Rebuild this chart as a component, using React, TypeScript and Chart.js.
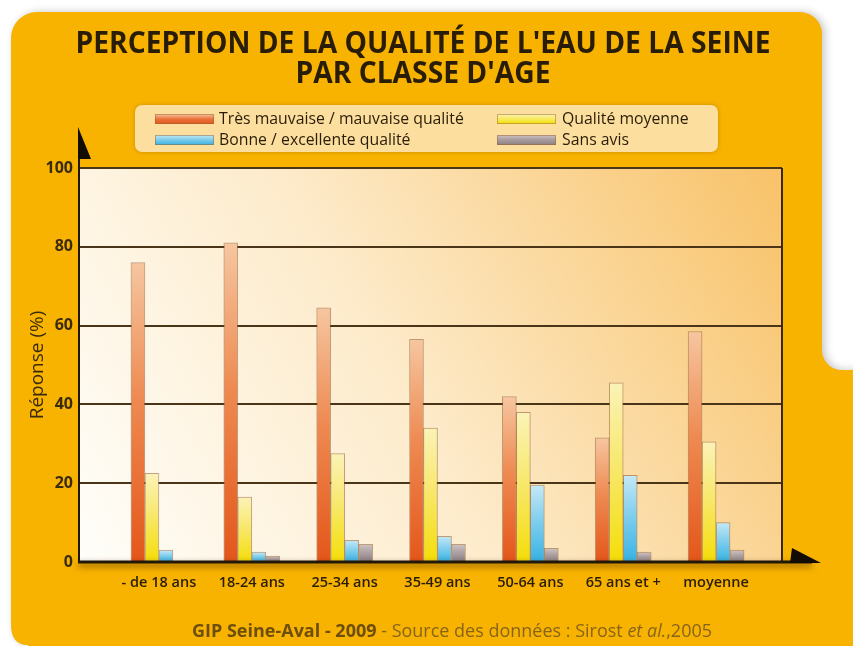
import React, { useEffect, useRef } from 'react';
import { Chart, registerables } from 'chart.js';

Chart.register(...registerables);

const categories = ['- de 18 ans', '18-24 ans', '25-34 ans', '35-49 ans', '50-64 ans', '65 ans et +', 'moyenne'];
const seriesLabels = ['Très mauvaise / mauvaise qualité', 'Qualité moyenne', 'Bonne / excellente qualité', 'Sans avis'];
const tresMauvaise = [76, 81, 64.5, 56.5, 42, 31.5, 58.5];
const qualiteMoyenne = [22.5, 16.5, 27.5, 34, 38, 45.5, 30.5];
const bonneExcellente = [3, 2.5, 5.5, 6.5, 19.5, 22, 10];
const sansAvis = [0, 1.5, 4.5, 4.5, 3.5, 2.5, 3];
const yTicks = [0, 20, 40, 60, 80, 100];
const titleLines = ["PERCEPTION DE LA QUALITÉ DE L'EAU DE LA SEINE", "PAR CLASSE D'AGE"];
const yTitle = 'Réponse (%)';
const footerBold = 'GIP Seine-Aval - 2009';
const footerText = ' - Source des données : Sirost ';
const footerItalic = 'et al.';
const footerEnd = ',2005';

const FONT = '"Open Sans", "DejaVu Sans", sans-serif';

const seriesColors = [
  { light: '#F6C6A0', mid: '#EE8B52', dark: '#E4561A', swatch: '#E9723A' },
  { light: '#FBF3B8', mid: '#F8E870', dark: '#F4DE08', swatch: '#F8EA5C' },
  { light: '#C4E8F6', mid: '#82CFEE', dark: '#36B2E4', swatch: '#7ACBEA' },
  { light: '#CFC3C3', mid: '#ADA1A3', dark: '#8C8084', swatch: '#A89A9C' },
];

const barGradient = (idx: number) => (c: any) => {
  const col = seriesColors[idx];
  const chart = c.chart;
  const y = chart.scales && chart.scales.y;
  if (!chart.chartArea || !y || c.type !== 'data' || !c.raw) return col.dark;
  const top = y.getPixelForValue(c.raw.y);
  const base = y.getPixelForValue(0);
  if (!(base - top > 0.5)) return col.dark;
  const g = chart.ctx.createLinearGradient(0, top, 0, base);
  g.addColorStop(0, col.light);
  g.addColorStop(0.45, col.mid);
  g.addColorStop(1, col.dark);
  return g;
};

const decorPlugin = {
  id: 'decor',
  beforeDraw(chart: any) {
    const { ctx, width, height, chartArea: a } = chart;
    ctx.save();
    ctx.fillStyle = '#ffffff';
    ctx.fillRect(0, 0, width, height);
    // amber panel
    ctx.save();
    ctx.shadowColor = 'rgba(0,0,0,0.22)';
    ctx.shadowBlur = 8;
    ctx.shadowOffsetX = 3;
    ctx.beginPath();
    ctx.moveTo(11, 40);
    ctx.arcTo(11, 12, 40, 12, 26);
    ctx.lineTo(800, 12);
    ctx.arcTo(822, 12, 822, 34, 22);
    ctx.lineTo(822, 350);
    ctx.arc(842, 350, 20, Math.PI, Math.PI / 2, true);
    ctx.lineTo(width + 10, 370);
    ctx.lineTo(width + 10, height + 10);
    ctx.lineTo(28, height + 10);
    ctx.lineTo(28, 645);
    ctx.quadraticCurveTo(11, 645, 11, 625);
    ctx.closePath();
    ctx.fillStyle = '#F8B300';
    ctx.fill();
    ctx.restore();
    // plot background
    const g = ctx.createLinearGradient(a.left, a.bottom, a.right, a.top);
    g.addColorStop(0, '#FFFEFA');
    g.addColorStop(0.45, '#FDEBCB');
    g.addColorStop(1, '#F8C268');
    ctx.fillStyle = g;
    ctx.fillRect(a.left, a.top, a.right - a.left, a.bottom - a.top);

    // title (condensed by horizontal scaling)
    ctx.fillStyle = '#2a1d08';
    ctx.textAlign = 'center';
    ctx.textBaseline = 'middle';
    ctx.font = 'bold 31px ' + FONT;
    const w0 = ctx.measureText(titleLines[0]).width;
    const sx = 695 / w0;
    const cx = 423;
    const ys = [44, 74];
    titleLines.forEach((t, i) => {
      ctx.save();
      ctx.translate(cx, ys[i]);
      ctx.scale(sx, 1);
      ctx.fillText(t, 0, 0);
      ctx.restore();
    });
    ctx.restore();
  },
  afterDraw(chart: any) {
    const { ctx, chartArea: a } = chart;
    ctx.save();
    // right border
    ctx.strokeStyle = '#3a2810';
    ctx.lineWidth = 2;
    ctx.beginPath();
    ctx.moveTo(a.right, a.top);
    ctx.lineTo(a.right, a.bottom);
    ctx.stroke();
    // left axis line
    ctx.strokeStyle = '#22180a';
    ctx.beginPath();
    ctx.moveTo(a.left - 1, a.top - 10);
    ctx.lineTo(a.left - 1, a.bottom);
    ctx.stroke();
    // up arrow
    ctx.fillStyle = '#120c04';
    ctx.beginPath();
    ctx.moveTo(a.left - 2, a.top - 41);
    ctx.lineTo(a.left + 11, a.top - 9);
    ctx.lineTo(a.left - 2, a.top - 9);
    ctx.closePath();
    ctx.fill();
    // bottom axis with shadow
    ctx.save();
    ctx.shadowColor = 'rgba(70,35,0,0.7)';
    ctx.shadowBlur = 6;
    ctx.shadowOffsetY = 3;
    ctx.strokeStyle = '#22180a';
    ctx.lineWidth = 3;
    ctx.beginPath();
    ctx.moveTo(a.left - 2, a.bottom);
    ctx.lineTo(a.right + 30, a.bottom);
    ctx.stroke();
    ctx.restore();
    // right arrow
    ctx.fillStyle = '#120c04';
    ctx.beginPath();
    ctx.moveTo(a.right + 10, a.bottom - 14);
    ctx.lineTo(a.right + 39, a.bottom + 1);
    ctx.lineTo(a.right + 8, a.bottom + 1);
    ctx.closePath();
    ctx.fill();

    // legend box
    const lx = 135, ly = 105, lw = 583, lh = 47;
    ctx.save();
    ctx.shadowColor = 'rgba(120,70,0,0.35)';
    ctx.shadowBlur = 4;
    ctx.beginPath();
    ctx.moveTo(lx + 7, ly);
    ctx.arcTo(lx + lw, ly, lx + lw, ly + lh, 7);
    ctx.arcTo(lx + lw, ly + lh, lx, ly + lh, 7);
    ctx.arcTo(lx, ly + lh, lx, ly, 7);
    ctx.arcTo(lx, ly, lx + lw, ly, 7);
    ctx.closePath();
    ctx.fillStyle = '#FCDE9E';
    ctx.fill();
    ctx.restore();
    const pos = [
      { sx: 155, tx: 219, y: 119 },
      { sx: 497, tx: 562, y: 119 },
      { sx: 155, tx: 219, y: 140 },
      { sx: 497, tx: 562, y: 140 },
    ];
    chart.data.datasets.forEach((ds: any, i: number) => {
      const p = pos[i];
      const col = seriesColors[i];
      const sg = ctx.createLinearGradient(0, p.y - 5, 0, p.y + 5);
      sg.addColorStop(0, col.light);
      sg.addColorStop(0.5, col.swatch);
      sg.addColorStop(1, col.dark);
      ctx.fillStyle = sg;
      ctx.fillRect(p.sx, p.y - 5, 59, 10);
      ctx.strokeStyle = 'rgba(150,100,50,0.5)';
      ctx.lineWidth = 1;
      ctx.strokeRect(p.sx + 0.5, p.y - 4.5, 58, 9);
      ctx.fillStyle = '#2a1d08';
      ctx.font = '17px ' + FONT;
      ctx.textBaseline = 'middle';
      ctx.textAlign = 'left';
      ctx.save();
      ctx.translate(p.tx, p.y);
      ctx.scale(0.93, 1);
      ctx.fillText(ds.label, 0, 0);
      ctx.restore();
    });

    // footer
    ctx.textBaseline = 'middle';
    ctx.textAlign = 'left';
    const fy = 632;
    const parts = [
      { t: footerBold, f: 'bold 18px ' + FONT, c: '#6E4E0C' },
      { t: footerText, f: '18px ' + FONT, c: '#86641C' },
      { t: footerItalic, f: 'italic 18px ' + FONT, c: '#86641C' },
      { t: footerEnd, f: '18px ' + FONT, c: '#86641C' },
    ];
    let total = 0;
    parts.forEach((p) => { ctx.font = p.f; total += ctx.measureText(p.t).width; });
    const fsx = 520 / total;
    ctx.save();
    ctx.translate(452 - 260, fy);
    ctx.scale(fsx, 1);
    let x = 0;
    parts.forEach((p) => {
      ctx.font = p.f;
      ctx.fillStyle = p.c;
      ctx.fillText(p.t, x, 0);
      x += ctx.measureText(p.t).width;
    });
    ctx.restore();
    ctx.restore();
  },
};

function App() {
  const ref = useRef<HTMLCanvasElement | null>(null);
  useEffect(() => {
    if (!ref.current) return;
    const series = [tresMauvaise, qualiteMoyenne, bonneExcellente, sansAvis];
    const chart = new Chart(ref.current, {
      type: 'bar',
      data: {
        labels: categories,
        datasets: series.map((vals, i) => ({
          label: seriesLabels[i],
          data: vals.map((v, j) => ({ x: j, y: v })),
          backgroundColor: barGradient(i),
          borderColor: 'rgba(140,90,50,0.55)',
          borderWidth: 1,
          barThickness: 14,
        })),
      },
      options: {
        animation: false,
        responsive: false,
        maintainAspectRatio: false,
        layout: { padding: { top: 168, left: 0, right: 0, bottom: 0 } },
        plugins: {
          legend: { display: false },
          tooltip: { enabled: false },
          title: { display: false },
        },
        scales: {
          x: {
            type: 'linear',
            offset: false,
            min: -0.85,
            max: 6.71,
            grid: { display: false },
            border: { display: false },
            afterBuildTicks: (s: any) => { s.ticks = categories.map((_, i) => ({ value: i })); },
            afterFit: (s: any) => { s.height = 84; },
            ticks: {
              autoSkip: false,
              maxRotation: 0,
              padding: 4,
              color: '#2a1d08',
              font: { family: FONT, size: 14.5, weight: '600' },
              callback: (v: any) => categories[v] ?? '',
            },
          },
          y: {
            min: 0,
            max: 100,
            afterBuildTicks: (s: any) => { s.ticks = yTicks.map((v) => ({ value: v })); },
            afterFit: (s: any) => { s.width = 80; },
            grid: { color: '#4a3518', lineWidth: 2, drawTicks: false },
            border: { display: false },
            ticks: {
              padding: 7,
              color: '#3a2a0e',
              font: { family: FONT, size: 16, weight: 'bold' },
            },
            title: {
              display: true,
              text: yTitle,
              color: '#3a2a0e',
              padding: { top: 26, bottom: 0 },
              font: { family: FONT, size: 19 },
            },
          },
          yRight: {
            position: 'right',
            min: 0,
            max: 100,
            grid: { display: false },
            border: { display: false },
            ticks: { display: false },
            afterFit: (s: any) => { s.width = 71; },
          },
        },
      },
      plugins: [decorPlugin],
    } as any);
    return () => chart.destroy();
  }, []);
  return (
    <div style={{ position: 'absolute', left: 0, top: 0, width: 853, height: 646 }}>
      <canvas ref={ref} width={853} height={646} style={{ width: 853, height: 646, display: 'block' }} />
    </div>
  );
}

export default App;
